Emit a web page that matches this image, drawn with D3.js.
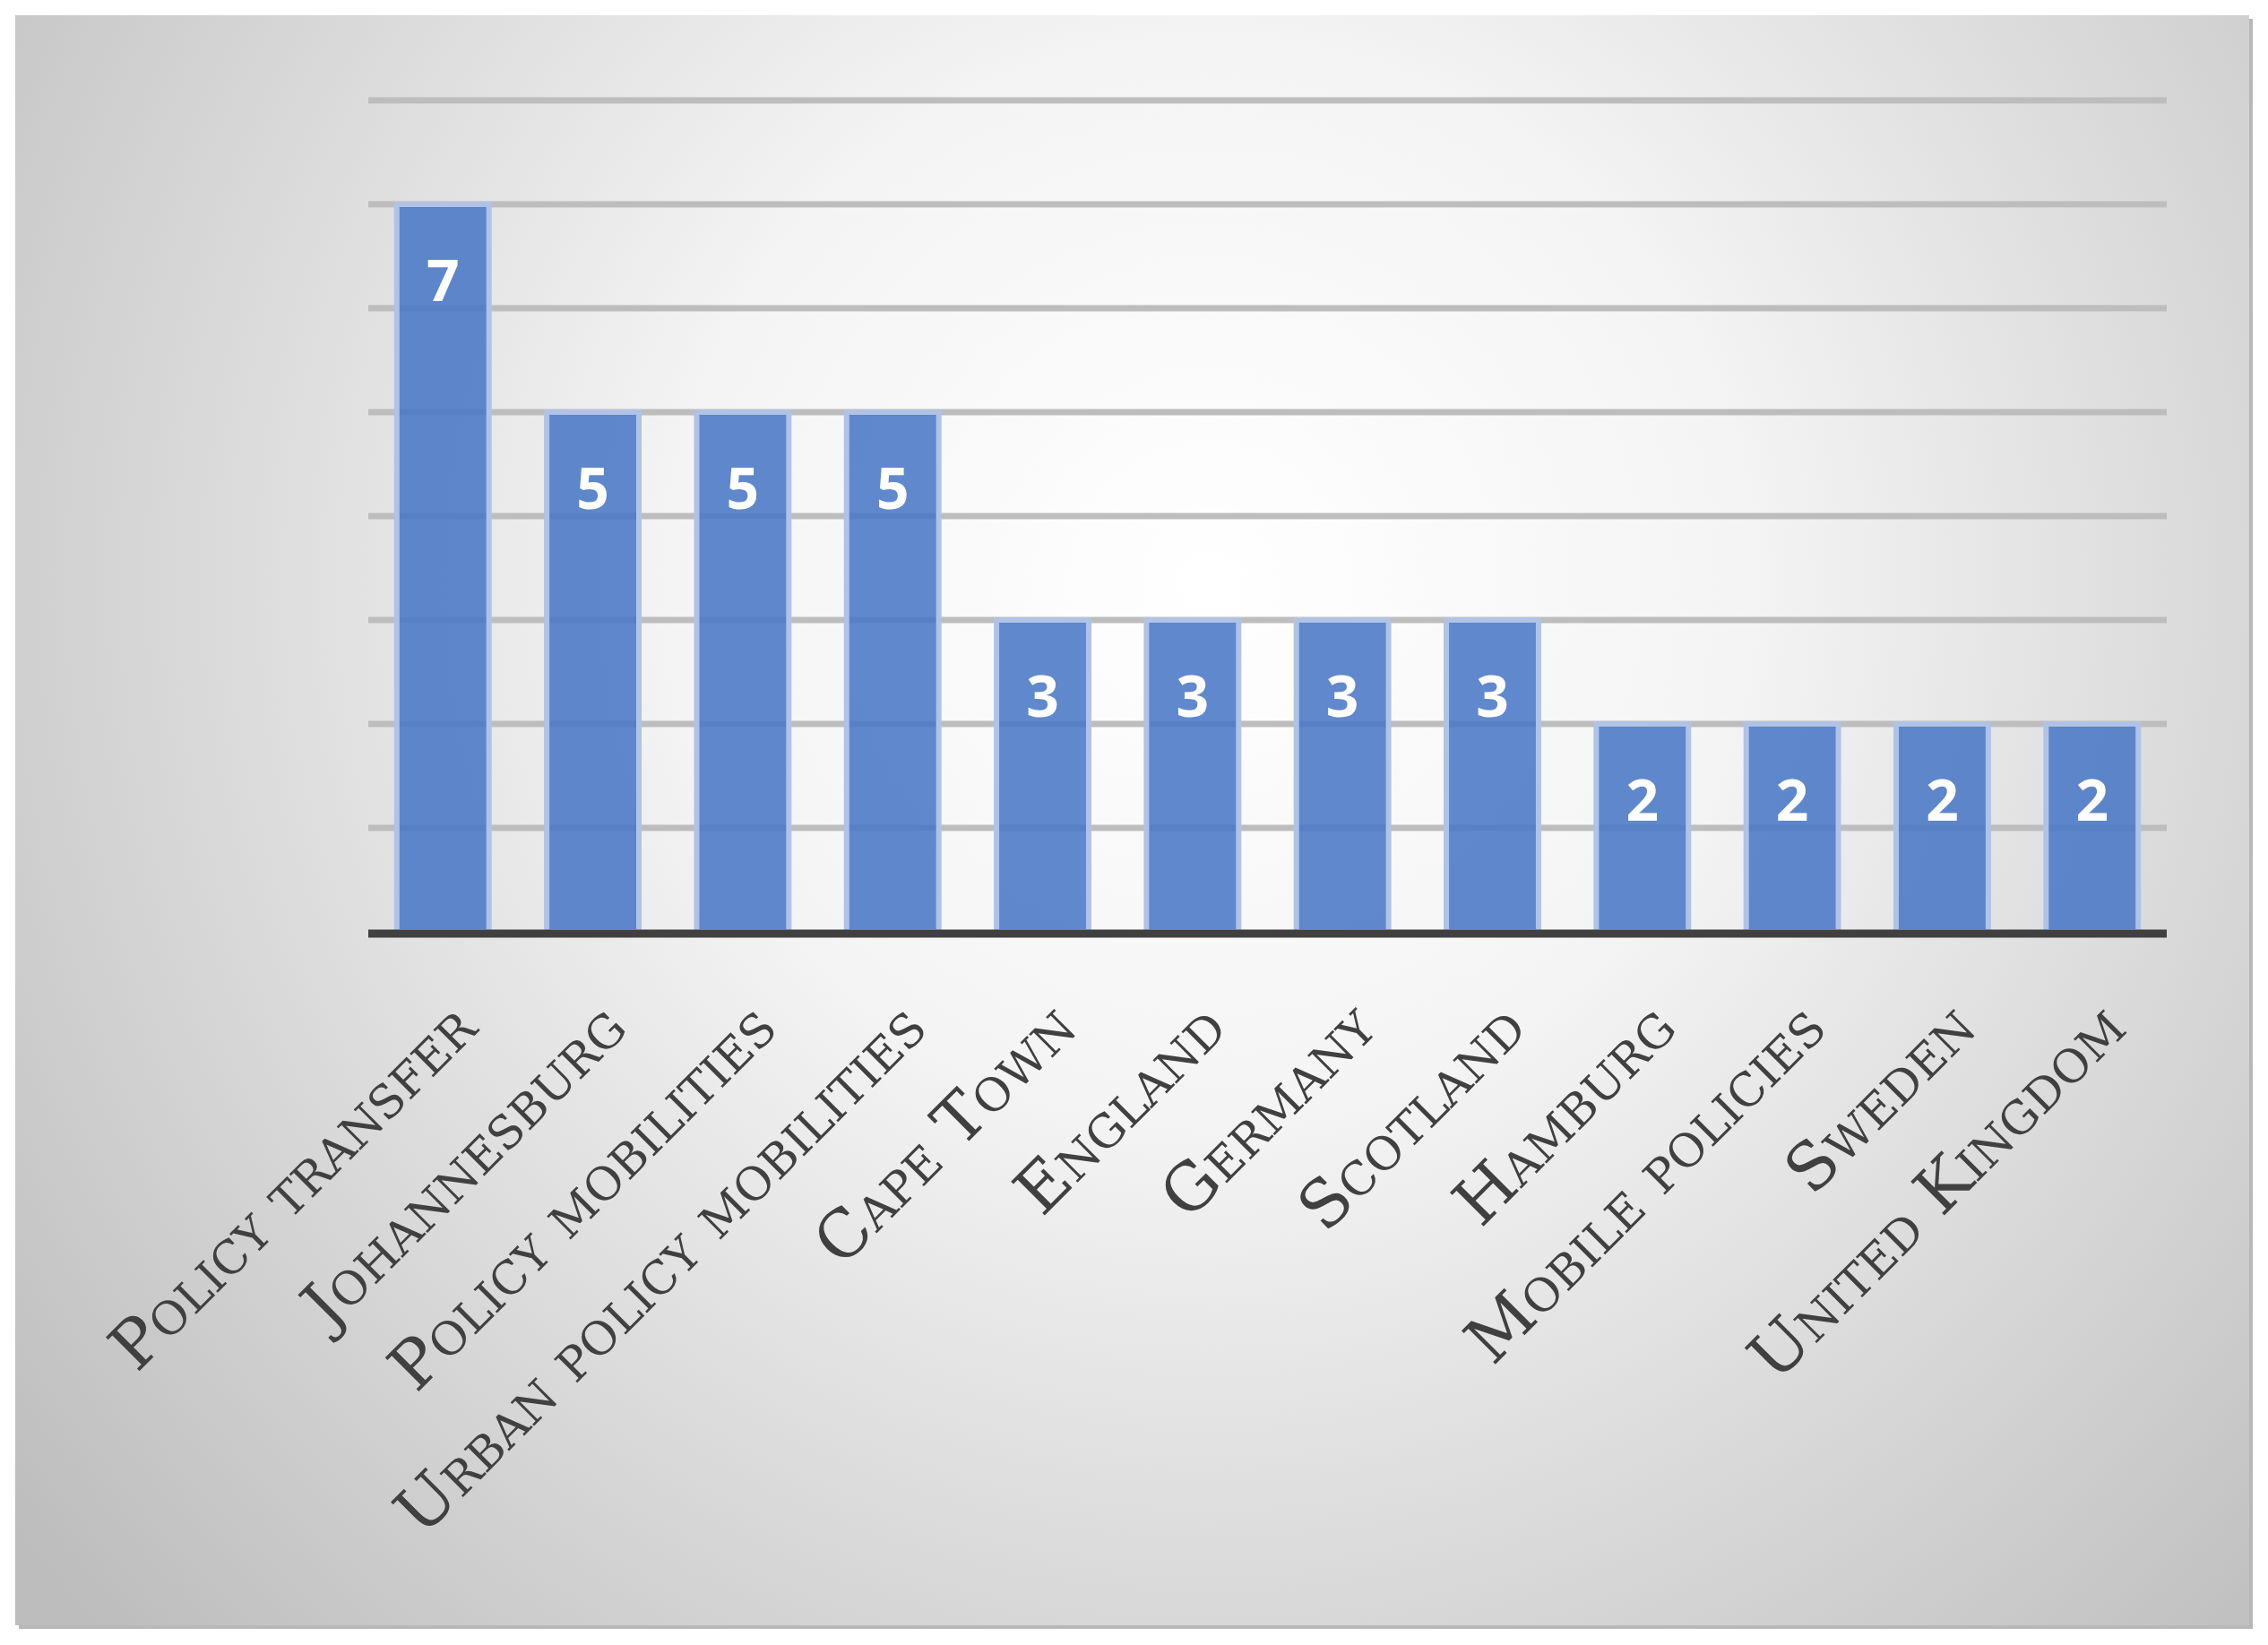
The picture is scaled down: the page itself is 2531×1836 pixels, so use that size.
<!DOCTYPE html>
<html><head><meta charset="utf-8">
<script src="https://cdn.jsdelivr.net/npm/d3@7/dist/d3.min.js"></script>
<style>body{margin:0;background:#fff}</style></head>
<body><script>
const categories=["Policy transfer","Johannesburg","Policy mobilities","Urban policy mobilities","Cape Town","England","Germany","Scotland","Hamburg","Mobile policies","Sweden","United Kingdom"];
const values=[7,5,5,5,3,3,3,3,2,2,2,2];
const yTicks=[1,2,3,4,5,6,7,8];
const W=2531,H=1836;
const svg=d3.select("body").append("svg").attr("width",W).attr("height",H);
const defs=svg.append("defs");
const g=defs.append("radialGradient").attr("id","bg").attr("gradientUnits","userSpaceOnUse")
 .attr("cx",1350).attr("cy",650).attr("r",1700);
g.append("stop").attr("offset","0").attr("stop-color","#ffffff");
g.append("stop").attr("offset","0.35").attr("stop-color","#f4f4f4");
g.append("stop").attr("offset","1").attr("stop-color","#bdbdbd");
svg.append("rect").attr("x",21).attr("y",21).attr("width",2493).attr("height",1797).attr("fill","#b8b8b8");
svg.append("rect").attr("x",17).attr("y",17).attr("width",2493).attr("height",1797).attr("fill","url(#bg)");
const x=d3.scaleBand().domain(categories).range([411,2418]).paddingInner(0.385).paddingOuter(0.19);
const y=d3.scaleLinear().domain([0,8]).range([1040,112]);
svg.append("g").selectAll("line").data(yTicks).join("line")
 .attr("x1",411).attr("x2",2418).attr("y1",d=>y(d)).attr("y2",d=>y(d))
 .attr("stroke","#bdbdbd").attr("stroke-width",7);
svg.append("g").selectAll("rect").data(values).join("rect")
 .attr("x",(d,i)=>x(categories[i])).attr("width",x.bandwidth())
 .attr("y",d=>y(d)).attr("height",d=>y(0)-y(d))
 .attr("fill","#4a77c6").attr("fill-opacity",0.88)
 .attr("stroke","#b0c3e6").attr("stroke-width",6);
svg.append("line").attr("x1",411).attr("x2",2418).attr("y1",1042).attr("y2",1042)
 .attr("stroke","#404040").attr("stroke-width",9);
svg.append("g").selectAll("text").data(values).join("text")
 .attr("x",(d,i)=>x(categories[i])+x.bandwidth()/2).attr("y",d=>y(d)+108)
 .attr("text-anchor","middle").attr("fill","#fff")
 .attr("font-family","Open Sans").attr("font-weight","bold").attr("font-size",64)
 .text(d=>d);
svg.append("g").selectAll("text").data(categories).join("text")
 .attr("transform",d=>`translate(${x(d)+x.bandwidth()/2+2},${1112}) rotate(-45)`)
 .attr("text-anchor","end").attr("dy","0.75em")
 .attr("fill","#404040").attr("font-family","DejaVu Serif").attr("font-size",73)
 .style("font-variant","small-caps")
 .text(d=>d);
</script></body></html>
